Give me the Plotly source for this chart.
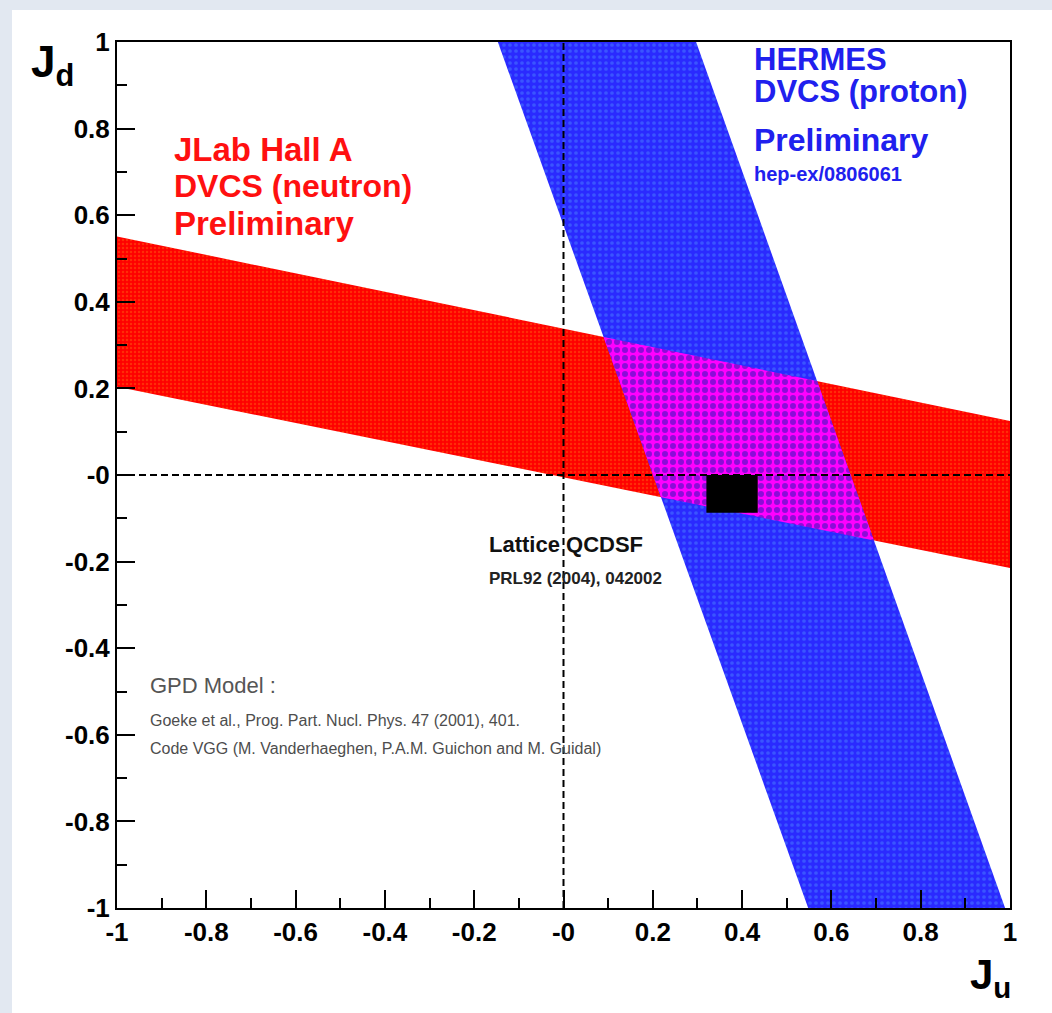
import plotly.graph_objects as go

# ---- data ----
tick_vals = [-1, -0.8, -0.6, -0.4, -0.2, 0, 0.2, 0.4, 0.6, 0.8, 1]
tick_text = ["-1", "-0.8", "-0.6", "-0.4", "-0.2", "-0", "0.2", "0.4", "0.6", "0.8", "1"]

# JLab Hall A band (neutron): J_d edges at J_u = -1 and J_u = 1
red_ju = [-1, 1]
red_upper = [0.551, 0.125]
red_lower = [0.204, -0.215]

# HERMES band (proton): J_u edges at J_d = 1 and J_d = -1
blue_jd = [1, -1]
blue_left = [-0.147, 0.548]
blue_right = [0.297, 0.989]

# Lattice QCDSF box
lattice_ju = [0.32, 0.435]
lattice_jd = [-0.087, 0.0]


def line_y_of_x(xs, ys):
    b = (ys[1] - ys[0]) / (xs[1] - xs[0])
    a = ys[0] - b * xs[0]
    return a, b


def line_x_of_y(ys, xs):
    d = (xs[1] - xs[0]) / (ys[1] - ys[0])
    c = xs[0] - d * ys[0]
    return c, d


def intersect(red_line, blue_line):
    a, b = red_line
    c, d = blue_line
    x = (c + d * a) / (1 - d * b)
    return x, a + b * x


ru = line_y_of_x(red_ju, red_upper)
rl = line_y_of_x(red_ju, red_lower)
bl = line_x_of_y(blue_jd, blue_left)
br = line_x_of_y(blue_jd, blue_right)
corners = [intersect(ru, bl), intersect(ru, br), intersect(rl, br), intersect(rl, bl)]

fig = go.Figure()

# red band
fig.add_trace(go.Scatter(
    x=[red_ju[0], red_ju[1], red_ju[1], red_ju[0], red_ju[0]],
    y=[red_upper[0], red_upper[1], red_lower[1], red_lower[0], red_upper[0]],
    mode="lines", fill="toself", line=dict(width=0, color="#ff0000"),
    fillcolor="#ff0000",
    fillpattern=dict(shape=".", bgcolor="#ff0000", fgcolor="#ff5a10", size=4, solidity=0.3),
    hoverinfo="skip", showlegend=False))

# blue band
fig.add_trace(go.Scatter(
    x=[blue_left[0], blue_right[0], blue_right[1], blue_left[1], blue_left[0]],
    y=[blue_jd[0], blue_jd[0], blue_jd[1], blue_jd[1], blue_jd[0]],
    mode="lines", fill="toself", line=dict(width=0, color="#2a2aff"),
    fillcolor="#2a2aff",
    fillpattern=dict(shape=".", bgcolor="#2a2aff", fgcolor="#4a80ff", size=6, solidity=0.3),
    hoverinfo="skip", showlegend=False))

# overlap
ox = [c[0] for c in corners] + [corners[0][0]]
oy = [c[1] for c in corners] + [corners[0][1]]
fig.add_trace(go.Scatter(
    x=ox, y=oy, mode="lines", fill="toself", line=dict(width=0, color="#ff00ff"),
    fillcolor="#ff00ff",
    fillpattern=dict(shape=".", bgcolor="#ff00ff", fgcolor="#1a1ab0", size=8, solidity=0.45),
    hoverinfo="skip", showlegend=False))

# dashed zero lines
fig.add_trace(go.Scatter(x=[0, 0], y=[-1, 1], mode="lines",
                         line=dict(color="black", width=2, dash="7px,4px"),
                         hoverinfo="skip", showlegend=False))
fig.add_trace(go.Scatter(x=[-1, 1], y=[0, 0], mode="lines",
                         line=dict(color="black", width=2, dash="7px,4px"),
                         hoverinfo="skip", showlegend=False))

# lattice box
fig.add_trace(go.Scatter(
    x=[lattice_ju[0], lattice_ju[1], lattice_ju[1], lattice_ju[0], lattice_ju[0]],
    y=[lattice_jd[0], lattice_jd[0], lattice_jd[1], lattice_jd[1], lattice_jd[0]],
    mode="lines", fill="toself", line=dict(width=0, color="black"), fillcolor="black",
    hoverinfo="skip", showlegend=False))

FONT = "Liberation Sans, Arial, Helvetica, sans-serif"


def ann(text, x, y, size, color, bold=True, xref="x", yref="y", xanchor="left", yanchor="middle"):
    fig.add_annotation(text=text, x=x, y=y, xref=xref, yref=yref, showarrow=False,
                       xanchor=xanchor, yanchor=yanchor,
                       font=dict(family=FONT, size=size, color=color,
                                 weight="bold" if bold else "normal"))


red = "#ff1010"
blue = "#2020ee"
ann("JLab Hall A", -0.877, 0.751, 33, red)
ann("DVCS (neutron)", -0.877, 0.668, 32, red)
ann("Preliminary", -0.877, 0.580, 33, red)

ann("HERMES", 0.422, 0.960, 31, blue)
ann("DVCS (proton)", 0.422, 0.885, 31, blue)
ann("Preliminary", 0.422, 0.774, 32, blue)
ann("hep-ex/0806061", 0.422, 0.695, 20, blue)

ann("Lattice QCDSF", -0.171, -0.160, 22, "#111111")
ann("PRL92 (2004), 042002", -0.171, -0.238, 17, "#222222")

ann("GPD Model :", -0.931, -0.486, 22, "#555555", bold=False)
ann("Goeke et al., Prog. Part. Nucl. Phys. 47 (2001), 401.", -0.931, -0.566, 16, "#4d4d4d", bold=False)
ann("Code VGG (M. Vanderhaeghen, P.A.M. Guichon and M. Guidal)", -0.931, -0.632, 16, "#4d4d4d", bold=False)

ann("J<sub>d</sub>", -0.099, 1.008, 44, "black", xref="paper", yref="paper", yanchor="top")
ann("J<sub>u</sub>", 0.953, -0.047, 42, "black", xref="paper", yref="paper", yanchor="top")

axis_common = dict(
    range=[-1, 1], tickvals=tick_vals, ticktext=tick_text,
    ticks="inside", ticklen=18, tickwidth=2, tickcolor="black",
    showline=True, linecolor="black", linewidth=2, mirror=True,
    showgrid=False, zeroline=False,
    tickfont=dict(family=FONT, size=26, color="black", weight="bold"),
    minor=dict(ticks="inside", ticklen=10, tickwidth=2, tickcolor="black",
               dtick=0.1, tick0=-1, showgrid=False),
)

fig.update_xaxes(**axis_common)
fig.update_yaxes(**axis_common)

# page background (light blue border, white sheet)
fig.add_shape(type="rect", xref="paper", yref="paper",
              x0=-0.1176, x1=1.06, y0=-0.13, y1=1.037,
              fillcolor="white", line=dict(width=0), layer="below")

fig.update_layout(
    width=1052, height=1013,
    margin=dict(l=117, r=42, t=42, b=105),
    paper_bgcolor="#e2e8f1", plot_bgcolor="white",
    showlegend=False,
)

fig.write_html("out.html")
